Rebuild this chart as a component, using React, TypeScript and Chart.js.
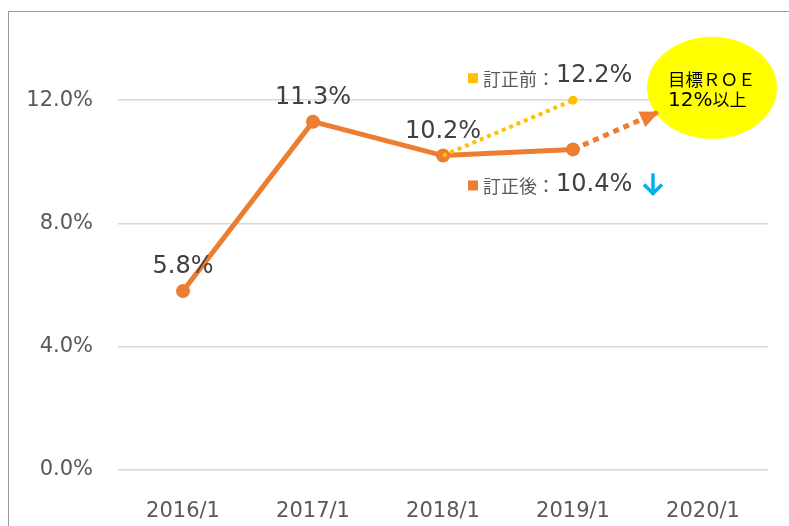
import React, { useEffect, useRef } from 'react';
import { Chart, registerables } from 'chart.js';

Chart.register(...registerables);

// ---- data ----
const categories = ['2016/1', '2017/1', '2018/1', '2019/1', '2020/1'];
const roeAfter = [5.8, 11.3, 10.2, 10.4]; // 訂正後
const roeBefore: (number | null)[] = [null, null, 10.2, 12.0]; // 訂正前 (drawn)
const targetX = [3, 3.65];
const targetY = [10.4, 11.6];
const yTicks = [0, 4, 8, 12];
const pointLabels = ['5.8%', '11.3%', '10.2%'];
const beforeLegend = ['訂正前：', '12.2%'];
const afterLegend = ['訂正後：', '10.4%'];
const goalLines = ['目標ＲＯＥ', '12%', '以上'];

const ORANGE = '#ed7d31';
const YELLOW = '#ffc000';
const NUM_FONT = '"DejaVu Sans", Verdana, sans-serif';
const CJK_FONT = '"Noto Sans CJK JP", sans-serif';

const annotPlugin = {
  id: 'annot',
  beforeDatasetsDraw(chart: any) {
    const { ctx, scales } = chart;
    const xs = scales.x, ys = scales.y;
    const cx = xs.getPixelForValue(4) + 9;
    const cy = ys.getPixelForValue(12.4);
    ctx.save();
    ctx.fillStyle = '#ffff00';
    ctx.beginPath();
    ctx.ellipse(cx, cy, 65, 51, 0, 0, Math.PI * 2);
    ctx.fill();
    ctx.fillStyle = '#000000';
    ctx.textBaseline = 'middle';
    ctx.textAlign = 'left';
    ctx.font = `17.5px ${CJK_FONT}`;
    ctx.fillText(goalLines[0], cx - 44, cy - 9);
    ctx.font = `20px ${NUM_FONT}`;
    ctx.fillText(goalLines[1], cx - 44, cy + 13);
    const w = ctx.measureText(goalLines[1]).width;
    ctx.font = `17px ${CJK_FONT}`;
    ctx.fillText(goalLines[2], cx - 44 + w, cy + 12);
    ctx.restore();
  },
  afterDatasetsDraw(chart: any) {
    const { ctx, scales } = chart;
    const xs = scales.x, ys = scales.y;
    ctx.save();
    // arrow head of target line
    const x0 = xs.getPixelForValue(targetX[0]);
    const y0 = ys.getPixelForValue(targetY[0]);
    const x1 = xs.getPixelForValue(targetX[1]);
    const y1 = ys.getPixelForValue(targetY[1]);
    const a = Math.atan2(y1 - y0, x1 - x0);
    const L = 17, W = 8.5;
    const bx = x1 - L * Math.cos(a), by = y1 - L * Math.sin(a);
    ctx.fillStyle = ORANGE;
    ctx.beginPath();
    ctx.moveTo(x1 + 2 * Math.cos(a), y1 + 2 * Math.sin(a));
    ctx.lineTo(bx - W * Math.sin(a), by + W * Math.cos(a));
    ctx.lineTo(bx + W * Math.sin(a), by - W * Math.cos(a));
    ctx.closePath();
    ctx.fill();

    // data labels
    ctx.fillStyle = '#404040';
    ctx.font = `24px ${NUM_FONT}`;
    ctx.textAlign = 'center';
    ctx.textBaseline = 'middle';
    pointLabels.forEach((t, i) => {
      ctx.fillText(t, xs.getPixelForValue(i), ys.getPixelForValue(roeAfter[i]) - 24);
    });

    // legend: before
    const px = xs.getPixelForValue(3);
    const pyB = ys.getPixelForValue(roeBefore[3] as number);
    ctx.textAlign = 'left';
    ctx.fillStyle = YELLOW;
    ctx.fillRect(px - 105, pyB - 27, 10, 10);
    ctx.fillStyle = '#595959';
    ctx.font = `18px ${CJK_FONT}`;
    ctx.fillText(beforeLegend[0], px - 90, pyB - 21);
    let w = ctx.measureText(beforeLegend[0]).width;
    ctx.fillStyle = '#404040';
    ctx.font = `24px ${NUM_FONT}`;
    ctx.fillText(beforeLegend[1], px - 90 + w + 1, pyB - 24);

    // legend: after
    const pyA = ys.getPixelForValue(roeAfter[3]);
    ctx.fillStyle = ORANGE;
    ctx.fillRect(px - 105, pyA + 31, 10, 10);
    ctx.fillStyle = '#595959';
    ctx.font = `18px ${CJK_FONT}`;
    ctx.fillText(afterLegend[0], px - 90, pyA + 37);
    w = ctx.measureText(afterLegend[0]).width;
    ctx.fillStyle = '#404040';
    ctx.font = `24px ${NUM_FONT}`;
    ctx.fillText(afterLegend[1], px - 90 + w + 1, pyA + 35);

    // down arrow
    const ax = px + 80, ay = pyA + 24;
    ctx.strokeStyle = '#00b0f0';
    ctx.lineWidth = 3.5;
    ctx.lineCap = 'butt';
    ctx.lineJoin = 'miter';
    ctx.beginPath();
    ctx.moveTo(ax, ay);
    ctx.lineTo(ax, ay + 21);
    ctx.stroke();
    ctx.beginPath();
    ctx.moveTo(ax - 9, ay + 11);
    ctx.lineTo(ax, ay + 20);
    ctx.lineTo(ax + 9, ay + 11);
    ctx.stroke();
    ctx.restore();
  },
};

export default function App() {
  const ref = useRef<HTMLCanvasElement | null>(null);
  useEffect(() => {
    if (!ref.current) return;
    const chart = new Chart(ref.current, {
      type: 'line',
      data: {
        datasets: [
          {
            label: '訂正前',
            data: roeBefore
              .map((y, i) => (y == null ? null : { x: i, y }))
              .filter((p) => p !== null) as any,
            borderColor: YELLOW,
            backgroundColor: YELLOW,
            borderWidth: 4,
            borderDash: [4, 4],
            pointRadius: [0, 4.5],
            pointBackgroundColor: YELLOW,
            pointBorderWidth: 0,
          },
          {
            label: '目標',
            data: targetX.map((x, i) => ({ x, y: targetY[i] })),
            borderColor: ORANGE,
            borderWidth: 5,
            borderDash: [6, 5],
            pointRadius: 0,
          },
          {
            label: '訂正後',
            data: roeAfter.map((y, i) => ({ x: i, y })),
            borderColor: ORANGE,
            backgroundColor: ORANGE,
            borderWidth: 5,
            pointRadius: 7,
            pointBackgroundColor: ORANGE,
            pointBorderWidth: 0,
          },
        ],
      },
      options: {
        animation: false,
        responsive: false,
        layout: { padding: { left: 0, top: 38.6, right: 21, bottom: 0 } },
        plugins: { legend: { display: false }, tooltip: { enabled: false } },
        scales: {
          x: {
            type: 'linear',
            min: -0.5,
            max: 4.5,
            grid: { display: false },
            border: { display: false },
            afterBuildTicks: (s: any) => {
              s.ticks = categories.map((_, i) => ({ value: i }));
            },
            afterFit: (s: any) => {
              s.height = 56.5;
            },
            ticks: {
              padding: 21,
              color: '#595959',
              font: { family: NUM_FONT, size: 21 },
              maxRotation: 0,
              autoSkip: false,
              callback: (v: any) => categories[v] ?? '',
            },
          },
          y: {
            min: 0,
            max: 14,
            grid: { color: '#d9d9d9', lineWidth: 1.5, drawTicks: false },
            border: { display: false },
            afterBuildTicks: (s: any) => {
              s.ticks = yTicks.map((v) => ({ value: v }));
            },
            afterFit: (s: any) => {
              s.width = 118;
            },
            ticks: {
              padding: 25,
              color: '#595959',
              font: { family: NUM_FONT, size: 21 },
              callback: (v: any) => Number(v).toFixed(1) + '%',
            },
          },
        },
      },
      plugins: [annotPlugin],
    });
    return () => chart.destroy();
  }, []);

  return (
    <div style={{ position: 'fixed', left: 0, top: 0, width: 789, height: 526, background: '#fff', overflow: 'hidden' }}>
      <div
        style={{
          position: 'absolute',
          left: 8,
          top: 11,
          right: -2,
          bottom: -2,
          borderTop: '1px solid #9a9a9a',
          borderLeft: '1px solid #9a9a9a',
        }}
      />
      <canvas ref={ref} width={789} height={526} style={{ position: 'absolute', left: 0, top: 0 }} />
    </div>
  );
}
